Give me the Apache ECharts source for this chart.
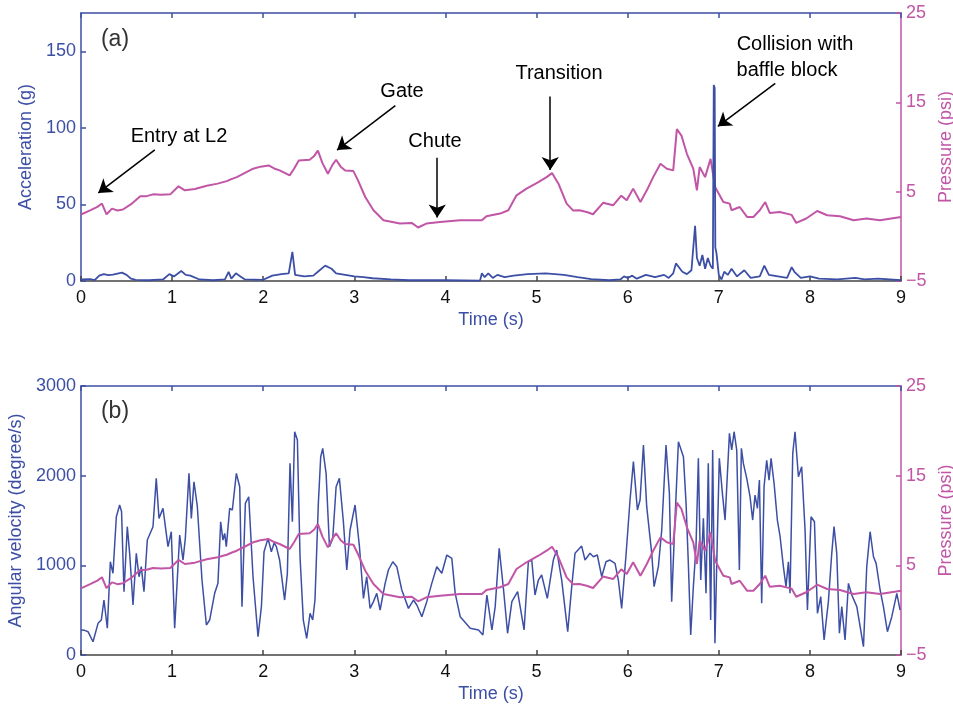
<!DOCTYPE html>
<html>
<head>
<meta charset="utf-8">
<script src="https://cdn.jsdelivr.net/npm/echarts@6/dist/echarts.min.js"></script>
<style>
  html, body { margin: 0; padding: 0; background: #fff; }
  #chart { width: 953px; height: 706px; }
</style>
</head>
<body>
<div id="chart"></div>
<script>
// time axis (s)
const timeMin = 0;
const timeMax = 9;
const accTicks = [0, 50, 100, 150];
const omegaTicks = [0, 1000, 2000, 3000];
const pressureTicks = [-5, 5, 15, 25];

// [time (s), pressure (psi)] - same record drawn in both panels
const pressure = [
  [0.00, 2.44], [0.10, 2.9], [0.18, 3.3], [0.23, 3.67], [0.28, 2.47], [0.34, 3.1],
  [0.40, 2.9], [0.46, 3.0], [0.55, 3.6], [0.65, 4.48], [0.72, 4.5], [0.79, 4.7],
  [0.88, 4.65], [0.98, 4.7], [1.07, 5.6], [1.14, 5.15], [1.25, 5.3], [1.38, 5.67],
  [1.50, 5.9], [1.60, 6.18], [1.65, 6.4], [1.71, 6.63], [1.80, 7.1], [1.89, 7.57],
  [1.97, 7.8], [2.06, 7.93], [2.12, 7.6], [2.18, 7.38], [2.29, 6.82], [2.34, 7.6],
  [2.39, 8.5], [2.51, 8.57], [2.56, 9.0], [2.60, 9.6], [2.65, 8.2], [2.71, 7.0],
  [2.76, 8.0], [2.80, 8.57], [2.85, 7.8], [2.90, 7.38], [2.99, 7.3], [3.04, 6.26],
  [3.12, 4.4], [3.21, 2.92], [3.32, 1.8], [3.50, 1.43], [3.63, 1.5], [3.70, 0.99],
  [3.79, 1.43], [3.94, 1.61], [4.16, 1.8], [4.40, 1.8], [4.45, 2.25], [4.60, 2.55],
  [4.69, 2.92], [4.78, 4.59], [4.89, 5.34], [5.02, 6.07], [5.11, 6.63], [5.17, 7.08],
  [5.24, 5.89], [5.33, 3.66], [5.40, 2.9], [5.47, 2.92], [5.55, 2.73], [5.62, 2.47],
  [5.73, 3.75], [5.84, 3.47], [5.93, 4.55], [5.99, 4.03], [6.06, 5.34], [6.14, 3.84],
  [6.21, 5.15], [6.28, 6.63], [6.36, 8.12], [6.43, 7.57], [6.50, 7.38], [6.52, 7.5],
  [6.54, 12.0], [6.59, 11.28], [6.65, 9.24], [6.72, 7.57], [6.76, 5.15], [6.79, 7.75],
  [6.85, 6.63], [6.91, 8.68], [6.96, 5.52], [7.05, 3.84], [7.12, 3.66], [7.14, 2.92],
  [7.23, 3.28], [7.31, 2.17], [7.38, 2.17], [7.45, 2.92], [7.51, 3.84], [7.56, 2.6],
  [7.67, 2.73], [7.80, 2.4], [7.85, 1.5], [7.96, 2.0], [8.08, 2.84], [8.19, 2.36],
  [8.33, 2.25], [8.48, 1.8], [8.62, 2.0], [8.77, 1.8], [9.00, 2.17]
];

// [time (s), acceleration (g)]
const acceleration = [
  [0, 1], [0.1, 1.2], [0.15, 0.5], [0.2, 3.5], [0.25, 4.5], [0.3, 3.8], [0.35, 4.2],
  [0.45, 5.5], [0.5, 4], [0.55, 1.5], [0.6, 0.8], [0.75, 0.5], [0.9, 1], [0.97, 4.5],
  [1.02, 3], [1.1, 6.5], [1.15, 4], [1.2, 3.5], [1.3, 1], [1.45, 0.5], [1.58, 1],
  [1.62, 6], [1.65, 1.5], [1.7, 5], [1.75, 3], [1.8, 1], [2.0, 0.8], [2.1, 3.5],
  [2.2, 4.5], [2.28, 5], [2.32, 19], [2.35, 4], [2.45, 3], [2.55, 3.5], [2.6, 6],
  [2.68, 10], [2.75, 8], [2.8, 5], [2.9, 4], [3.0, 3], [3.1, 2.5], [3.2, 1.8],
  [3.4, 1], [3.6, 0.5], [4.0, 0.5], [4.38, 0.3], [4.4, 5], [4.43, 2.5], [4.47, 5],
  [4.52, 2], [4.57, 4], [4.65, 2.5], [4.75, 3.5], [4.9, 4.5], [5.1, 5], [5.3, 4],
  [5.45, 2.5], [5.6, 1.2], [5.8, 0.5], [5.92, 1], [5.96, 3], [6.0, 2], [6.05, 3.5],
  [6.1, 1.5], [6.2, 4], [6.3, 2.5], [6.4, 4], [6.45, 2], [6.5, 5], [6.53, 11.5],
  [6.6, 6], [6.65, 4.5], [6.7, 7], [6.74, 36], [6.76, 15], [6.79, 10], [6.82, 17],
  [6.85, 8], [6.88, 15], [6.91, 10], [6.935, 8], [6.945, 128], [6.955, 126],
  [6.962, 22], [6.975, 18], [7.0, 4], [7.03, 1], [7.06, 6], [7.1, 4], [7.14, 8],
  [7.2, 3], [7.28, 7], [7.35, 2], [7.45, 3], [7.5, 10], [7.55, 4], [7.65, 3],
  [7.75, 2], [7.8, 9], [7.83, 6], [7.9, 2], [8.0, 3], [8.1, 1.5], [8.3, 1],
  [8.5, 2], [8.6, 1], [8.75, 1.5], [9, 0.5]
];

// [time (s), angular velocity (degree/s)]
const angularVelocity = [
  [0.000, 279], [0.040, 275], [0.077, 260], [0.132, 148], [0.187, 353], [0.223, 390],
  [0.252, 613], [0.289, 298], [0.322, 1040], [0.351, 911], [0.388, 1542], [0.424, 1673],
  [0.445, 1600], [0.472, 706], [0.508, 1431], [0.534, 1134], [0.571, 558], [0.607, 1134],
  [0.637, 873], [0.662, 985], [0.691, 706], [0.728, 1282], [0.790, 1431], [0.826, 1970],
  [0.856, 1524], [0.900, 1635], [0.955, 1208], [0.991, 1375], [1.028, 298], [1.083, 1338],
  [1.120, 1059], [1.145, 1300], [1.185, 2026], [1.211, 1524], [1.240, 1932], [1.277, 1654],
  [1.328, 836], [1.376, 335], [1.412, 390], [1.467, 688], [1.503, 799], [1.533, 1486],
  [1.558, 1282], [1.577, 1357], [1.595, 1208], [1.632, 1635], [1.661, 1617], [1.705, 2026],
  [1.742, 1877], [1.767, 539], [1.804, 1691], [1.841, 1765], [1.888, 873], [1.943, 204],
  [1.980, 539], [2.009, 1152], [2.053, 1301], [2.089, 1152], [2.120, 1250], [2.144, 1208],
  [2.180, 1059], [2.235, 613], [2.265, 911], [2.294, 2137], [2.320, 1486], [2.345, 2490],
  [2.375, 2397], [2.404, 1096], [2.440, 390], [2.477, 186], [2.514, 465], [2.543, 390],
  [2.568, 613], [2.605, 1691], [2.631, 2211], [2.653, 2304], [2.690, 2026], [2.727, 1208],
  [2.763, 1300], [2.800, 1877], [2.836, 1970], [2.880, 1486], [2.917, 948], [2.953, 1394],
  [3.008, 1673], [3.056, 1208], [3.100, 632], [3.136, 873], [3.173, 520], [3.210, 595],
  [3.246, 688], [3.283, 502], [3.338, 799], [3.374, 948], [3.422, 1040], [3.466, 985],
  [3.521, 725], [3.594, 520], [3.649, 613], [3.686, 558], [3.741, 427], [3.795, 595],
  [3.850, 799], [3.905, 985], [3.960, 911], [4.015, 1115], [4.070, 1078], [4.107, 688],
  [4.162, 427], [4.272, 298], [4.363, 279], [4.411, 223], [4.455, 669], [4.510, 279],
  [4.546, 539], [4.590, 1189], [4.638, 725], [4.682, 242], [4.729, 595], [4.792, 706],
  [4.863, 279], [4.910, 1040], [4.947, 1059], [4.983, 669], [5.020, 836], [5.056, 892],
  [5.118, 632], [5.184, 1059], [5.221, 1171], [5.276, 836], [5.342, 260], [5.386, 762],
  [5.422, 1134], [5.495, 1215], [5.532, 1059], [5.587, 1134], [5.623, 1096], [5.667, 1115],
  [5.715, 873], [5.762, 1040], [5.806, 1059], [5.861, 1022], [5.898, 836], [5.934, 520],
  [5.982, 1115], [6.026, 1728], [6.063, 2156], [6.107, 1617], [6.136, 1728], [6.173, 2342],
  [6.209, 1654], [6.264, 1134], [6.290, 762], [6.337, 985], [6.374, 1394], [6.421, 2342],
  [6.458, 1802], [6.483, 595], [6.520, 1524], [6.557, 2379], [6.612, 2211], [6.641, 1691],
  [6.666, 1022], [6.692, 223], [6.721, 762], [6.750, 1208], [6.776, 2193], [6.802, 836],
  [6.831, 1524], [6.860, 688], [6.885, 2137], [6.911, 390], [6.933, 2286], [6.958, 130],
  [6.984, 1300], [7.006, 2193], [7.040, 1800], [7.069, 1505], [7.117, 2472], [7.142, 2286],
  [7.168, 2490], [7.197, 2286], [7.226, 948], [7.248, 2305], [7.270, 2137], [7.307, 1970],
  [7.343, 1765], [7.372, 1505], [7.398, 1784], [7.424, 1635], [7.446, 1951], [7.471, 576],
  [7.497, 1877], [7.526, 2171], [7.552, 1951], [7.574, 2193], [7.607, 1914], [7.643, 1505],
  [7.673, 1319], [7.709, 985], [7.738, 762], [7.764, 1040], [7.782, 688], [7.812, 2249],
  [7.837, 2490], [7.874, 1988], [7.910, 2100], [7.947, 1394], [7.973, 502], [8.013, 1542],
  [8.050, 1486], [8.083, 465], [8.119, 651], [8.156, 167], [8.203, 595], [8.240, 1134],
  [8.265, 1431], [8.295, 1134], [8.324, 242], [8.350, 539], [8.386, 167], [8.423, 799],
  [8.460, 669], [8.515, 539], [8.588, 93], [8.624, 985], [8.661, 1375], [8.698, 1096],
  [8.727, 1022], [8.771, 725], [8.807, 539], [8.851, 260], [8.899, 427], [8.954, 688],
  [8.990, 502]
];

// annotation arrows in panel (a): [start, end] in (time, g)
const arrows = [
  [[0.81, 85.6], [0.19, 57.5]],   // Entry at L2
  [[3.45, 114.5], [2.81, 85.5]],  // Gate
  [[3.91, 80.5], [3.91, 41.5]],   // Chute
  [[5.15, 120.5], [5.15, 72.5]],  // Transition
  [[7.62, 129.0], [6.99, 101.0]]  // Collision with baffle block
];

const BLUE = '#3c4fa5';
const MAGENTA = '#c155a6';
const FONT = '"Liberation Sans", Arial, sans-serif';

const chart = echarts.init(document.getElementById('chart'), null, { renderer: 'canvas' });

function minusFmt(v) {
  return v < 0 ? '\u2212' + Math.abs(v) : String(v);
}

function bottomX(gridIndex) {
  return {
    type: 'value', gridIndex: gridIndex, position: 'bottom',
    min: timeMin, max: timeMax, interval: 1,
    axisLine: { onZero: false, lineStyle: { color: '#444', width: 1.5 } },
    axisTick: { inside: true, length: 5, lineStyle: { color: '#444', width: 1.5 } },
    axisLabel: { color: '#111', fontSize: 18, fontFamily: FONT, margin: 8 },
    splitLine: { show: false },
    name: 'Time (s)', nameLocation: 'middle', nameGap: 30,
    nameTextStyle: { color: BLUE, fontSize: 18, fontFamily: FONT }
  };
}

function topX(gridIndex) {
  return {
    type: 'value', gridIndex: gridIndex, position: 'top',
    min: timeMin, max: timeMax, interval: 1,
    axisLine: { onZero: false, lineStyle: { color: BLUE, width: 1.5 } },
    axisTick: { inside: true, length: 5, lineStyle: { color: BLUE, width: 1.5 } },
    axisLabel: { show: false },
    splitLine: { show: false }
  };
}

function leftY(gridIndex, max, ticks, name, gap) {
  return {
    type: 'value', gridIndex: gridIndex, position: 'left',
    min: 0, max: max,
    axisLine: { show: true, onZero: false, lineStyle: { color: BLUE, width: 1.5 } },
    axisTick: { show: true, inside: true, length: 5, customValues: ticks, lineStyle: { color: BLUE, width: 1.5 } },
    axisLabel: { color: BLUE, fontSize: 18, fontFamily: FONT, margin: 5, customValues: ticks, formatter: v => String(v) },
    splitLine: { show: false },
    name: name, nameLocation: 'middle', nameGap: gap, nameRotate: 90,
    nameTextStyle: { color: BLUE, fontSize: 18, fontFamily: FONT }
  };
}

function rightY(gridIndex) {
  return {
    type: 'value', gridIndex: gridIndex, position: 'right',
    min: -5, max: 25,
    axisLine: { show: true, onZero: false, lineStyle: { color: MAGENTA, width: 1.5 } },
    axisTick: { show: true, inside: true, length: 5, customValues: pressureTicks, lineStyle: { color: MAGENTA, width: 1.5 } },
    axisLabel: { color: MAGENTA, fontSize: 18, fontFamily: FONT, margin: 5, customValues: pressureTicks, formatter: minusFmt },
    splitLine: { show: false },
    name: 'Pressure (psi)', nameLocation: 'middle', nameGap: 32, nameRotate: 90,
    nameTextStyle: { color: MAGENTA, fontSize: 18, fontFamily: FONT }
  };
}

const option = {
  animation: false,
  backgroundColor: '#fff',
  grid: [
    { left: 81, top: 13, width: 820, height: 268, containLabel: false, outerBoundsMode: 'none' },
    { left: 81, top: 386, width: 820, height: 269, containLabel: false, outerBoundsMode: 'none' }
  ],
  xAxis: [bottomX(0), topX(0), bottomX(1), topX(1)],
  yAxis: [
    leftY(0, 175, accTicks, 'Acceleration (g)', 42),
    rightY(0),
    leftY(1, 3000, omegaTicks, 'Angular velocity (degree/s)', 55),
    rightY(1)
  ],
  series: [
    {
      name: 'Pressure (a)', type: 'line', xAxisIndex: 0, yAxisIndex: 1,
      data: pressure, showSymbol: false, silent: true,
      lineStyle: { color: MAGENTA, width: 2 }
    },
    {
      name: 'Acceleration', type: 'line', xAxisIndex: 0, yAxisIndex: 0,
      data: acceleration, showSymbol: false, silent: true,
      lineStyle: { color: BLUE, width: 1.8 },
      markLine: {
        silent: true,
        symbol: ['none', 'arrow'],
        symbolSize: 13,
        label: { show: false },
        lineStyle: { color: '#000', width: 1.5, type: 'solid' },
        data: arrows.map(a => [{ coord: a[0] }, { coord: a[1] }])
      }
    },
    {
      name: 'Angular velocity', type: 'line', xAxisIndex: 2, yAxisIndex: 2,
      data: angularVelocity, showSymbol: false, silent: true,
      lineStyle: { color: BLUE, width: 1.5 }
    },
    {
      name: 'Pressure (b)', type: 'line', xAxisIndex: 2, yAxisIndex: 3,
      data: pressure, showSymbol: false, silent: true,
      lineStyle: { color: MAGENTA, width: 2 }
    }
  ],
  graphic: [
    { type: 'text', x: 115, y: 40, style: { text: '(a)', fill: '#333', font: '23px ' + FONT, align: 'center', verticalAlign: 'middle' } },
    { type: 'text', x: 115, y: 412, style: { text: '(b)', fill: '#333', font: '23px ' + FONT, align: 'center', verticalAlign: 'middle' } },
    { type: 'text', x: 179, y: 136, style: { text: 'Entry at L2', fill: '#000', font: '20px ' + FONT, align: 'center', verticalAlign: 'middle' } },
    { type: 'text', x: 402, y: 91, style: { text: 'Gate', fill: '#000', font: '20px ' + FONT, align: 'center', verticalAlign: 'middle' } },
    { type: 'text', x: 435, y: 141, style: { text: 'Chute', fill: '#000', font: '20px ' + FONT, align: 'center', verticalAlign: 'middle' } },
    { type: 'text', x: 559, y: 73, style: { text: 'Transition', fill: '#000', font: '20px ' + FONT, align: 'center', verticalAlign: 'middle' } },
    { type: 'text', x: 795, y: 44, style: { text: 'Collision with', fill: '#000', font: '20px ' + FONT, align: 'center', verticalAlign: 'middle' } },
    { type: 'text', x: 787, y: 70, style: { text: 'baffle block', fill: '#000', font: '20px ' + FONT, align: 'center', verticalAlign: 'middle' } }
  ]
};

chart.setOption(option);
</script>
</body>
</html>
